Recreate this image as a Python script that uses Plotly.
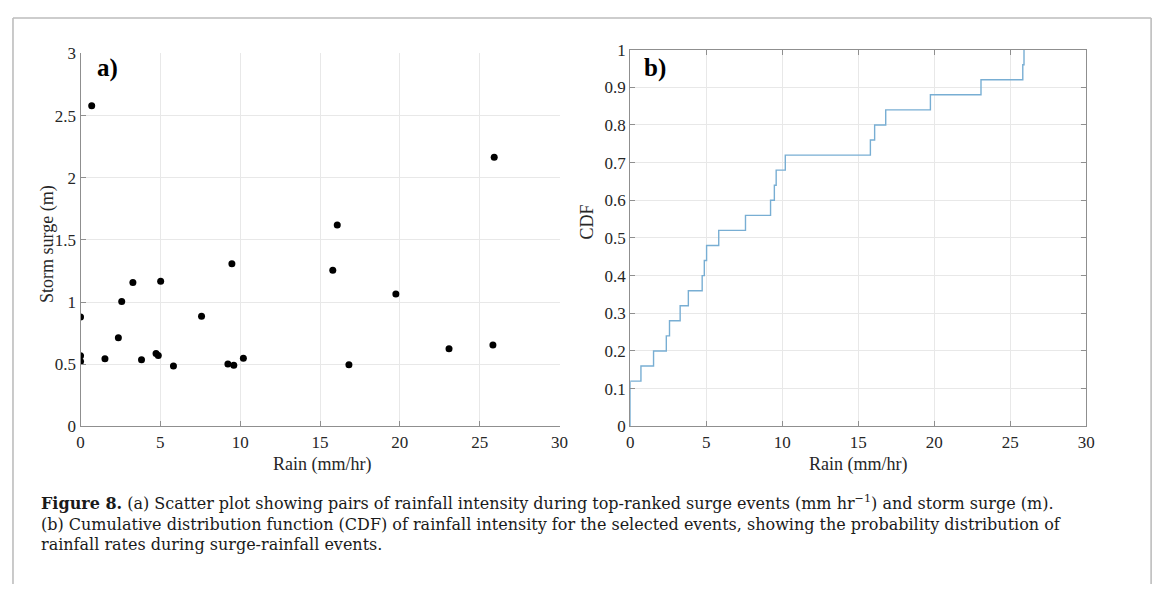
import numpy as np
import plotly.graph_objects as go

# page is offset by the browser's 8px body margin; work in page pixels
OFF = 8
W, H = 1170 - OFF, 594 - OFF

# ---- data ----
rain = [0.0, 0.0, 0.0, 0.70, 1.53, 2.37, 2.58, 3.28, 3.82, 4.73, 4.87, 5.02, 5.82,
        7.58, 9.23, 9.48, 9.60, 10.20, 15.80, 16.08, 16.81, 19.75, 23.08, 25.83, 25.91]
surge = [0.88, 0.567, 0.522, 2.58, 0.543, 0.713, 1.005, 1.157, 0.535, 0.585, 0.569, 1.167, 0.486,
         0.885, 0.501, 1.308, 0.491, 0.548, 1.256, 1.62, 0.496, 1.065, 0.624, 0.655, 2.165]

x_ticks = [0, 5, 10, 15, 20, 25, 30]
surge_ticks = [0, 0.5, 1, 1.5, 2, 2.5, 3]
surge_ticktext = ["0", "0.5", "1", "1.5", "2", "2.5", "3"]
cdf_ticks = [0, 0.1, 0.2, 0.3, 0.4, 0.5, 0.6, 0.7, 0.8, 0.9, 1]
cdf_ticktext = ["0", "0.1", "0.2", "0.3", "0.4", "0.5", "0.6", "0.7", "0.8", "0.9", "1"]

# empirical CDF of the rain values
rs = np.sort(np.array(rain))
cdf_x = np.concatenate([[rs[0]], rs])
cdf_y = np.concatenate([[0.0], np.arange(1, len(rs) + 1) / len(rs)])


def px(x):
    return (x - OFF) / W


def py(y):
    return 1 - (y - OFF) / H


SERIF = "Liberation Serif"
TXT = "#262626"
GRID = "#e8e8e8"
AX = "#8f8f8f"

fig = go.Figure()
fig.add_trace(go.Scatter(x=rain, y=surge, mode="markers",
                         marker=dict(color="black", size=7),
                         xaxis="x", yaxis="y", showlegend=False))
fig.add_trace(go.Scatter(x=cdf_x, y=cdf_y, mode="lines", line_shape="hv",
                         line=dict(color="#78aed3", width=1.4),
                         xaxis="x2", yaxis="y2", showlegend=False))

common = dict(showgrid=True, gridcolor=GRID, gridwidth=1, zeroline=False,
              showline=True, linecolor=AX, linewidth=1.2,
              ticks="inside", ticklen=5, tickcolor=AX, tickwidth=1,
              tickfont=dict(family=SERIF, size=17, color=TXT))

fig.update_layout(
    width=W, height=H, margin=dict(l=0, r=0, t=0, b=0),
    paper_bgcolor="white", plot_bgcolor="white",
    xaxis=dict(domain=[px(77.3), px(561.7)], range=[0, 30], tickvals=x_ticks,
               anchor="y", mirror=False, **common),
    yaxis=dict(domain=[py(431), py(45.7)], range=[0, 3], tickvals=surge_ticks,
               ticktext=surge_ticktext, anchor="x", mirror=False, **common),
    xaxis2=dict(domain=[px(633.3), px(1094.3)], range=[0, 30], tickvals=x_ticks,
                anchor="y2", mirror="ticks", **common),
    yaxis2=dict(domain=[py(431), py(41.7)], range=[0, 1], tickvals=cdf_ticks,
                ticktext=cdf_ticktext, anchor="x2", mirror="ticks", **common),
)

ann = []


def label(text, x, y, size, angle=0, xa="center", ya="middle", color=TXT,
          family=SERIF, align="center"):
    ann.append(dict(text=text, x=px(x), y=py(y), xref="paper", yref="paper",
                    xanchor=xa, yanchor=ya, showarrow=False, textangle=angle,
                    align=align, font=dict(family=family, size=size, color=color)))


# axis titles
label("Rain (mm/hr)", 322, 470, 18)
label("Rain (mm/hr)", 864, 470, 18)
label("Storm surge (m)", 44, 243, 18, angle=-90)
label("CDF", 590, 220, 18, angle=-90)
# panel letters
label("<b>a)</b>", 92, 61, 25, xa="left", color="black")
label("<b>b)</b>", 645, 61, 25, xa="left", color="black")
# caption
cap = [
    "<b>Figure 8.</b> (a) Scatter plot showing pairs of rainfall intensity during top-ranked surge events (mm hr<sup>\u22121</sup>) and storm surge (m).",
    "(b) Cumulative distribution function (CDF) of rainfall intensity for the selected events, showing the probability distribution of",
    "rainfall rates during surge-rainfall events.",
]
label("<br>".join(cap), 35, 531, 16, xa="left", ya="middle", color="#1a1a1a",
      family="DejaVu Serif", align="left")
fig.update_layout(annotations=ann)

# page frame (open at the bottom)
FR = "#bdbdbd"
fig.add_shape(type="line", xref="paper", yref="paper", x0=px(9), x1=px(1160), y0=py(9), y1=py(9),
              line=dict(color=FR, width=1.6))
fig.add_shape(type="line", xref="paper", yref="paper", x0=px(9), x1=px(9), y0=py(9), y1=0,
              line=dict(color=FR, width=1.6))
fig.add_shape(type="line", xref="paper", yref="paper", x0=px(1160), x1=px(1160), y0=py(9), y1=0,
              line=dict(color=FR, width=1.6))

fig.write_html("out.html")
